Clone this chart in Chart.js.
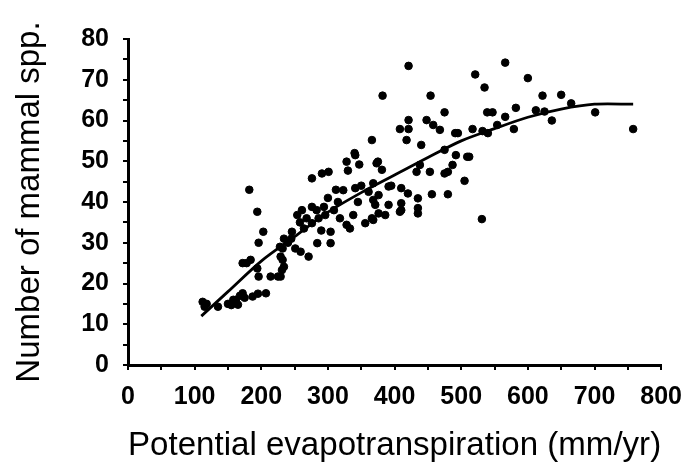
<!DOCTYPE html>
<html>
<head>
<meta charset="utf-8">
<script src="https://cdn.jsdelivr.net/npm/chart.js@4"></script>
<style>
  html, body { margin: 0; padding: 0; background: #fff; }
  #wrap { width: 694px; height: 470px; }
</style>
</head>
<body>
<div id="wrap"><canvas id="myChart"></canvas></div>
<script>
// data
const petX = [112,115,118,135,150,155,158,162,165,168,172,175,187,195,207,182,194,203,196,172,184,178,194,196,214,225,229,228,234,232,232,234,231,229,
  246,251,259,271,254,261,264,276,276,276,291,301,304,304,284,294,296,309,323,328,333,338,341,356,361,366,368,328,330,340,347,366,373,341,286,268,315,300,312,245,240,258,283,290,318,345,350,
  368,368,371,376,376,375,381,382,386,391,391,395,408,408,410,410,410,418,420,421,421,421,433,435,435,435,438,440,448,453,454,456,458,468,475,475,475,480,480,487,491,492,505,509,
  495,512,517,521,531,532,535,539,540,547,554,566,566,579,582,600,612,622,625,636,650,665,701,758];
const mammalY = [15.5,14.3,15,14.3,15,14.7,16,16,14.8,17,17.6,16.5,16.8,17.5,17.6,43,37.6,32.7,30,25,25.8,25,23.7,21.7,21.7,21.7,26.6,29,31,28.6,25.8,24.1,23.3,21.7,
  32.7,28.6,27.8,26.6,36.8,38,33.5,34.8,38.8,45.8,47,47.4,32.7,29.9,29.9,38.8,36.8,38,42.9,34.4,33.5,36.8,43.4,34.8,42.5,36,40.5,49.9,47.7,52,49.2,55.2,49.5,51.5,36,36,40,41,43,31,30,35,38,33,36,40,44,
  44.6,35.6,39.3,37.2,41.7,49.9,47.9,66.1,36.8,43.8,39.3,44,37.6,57.9,43.4,39.7,38,55.2,42.1,73.4,60.1,57.9,47.4,40.9,38.5,37.2,49.1,54,60.1,47.4,66.1,41.9,58.9,57.7,62,52.8,47,47.4,41.9,49.1,56.9,51.5,45.2,51.1,
  56.9,51.1,57.9,71.3,35.8,57.4,68.1,62,56.9,62,58.9,74.2,60.9,57.9,63.1,70.4,62.5,66.1,62.2,60,66.3,64.2,62,57.9];

// fitted curve
const fitX = [110,150,200,250,300,350,400,450,500,550,600,650,700,758];
const fitY = [12,18,25.5,31.5,37.5,42.3,46.6,50.9,55,58,60.8,62.8,64,64];

const xTicks = [0,100,200,300,400,500,600,700,800];
const yTicks = [0,10,20,30,40,50,60,70,80];

const points = petX.map((x, i) => ({ x: x, y: mammalY[i] }));
const curve = fitX.map((x, i) => ({ x: x, y: fitY[i] }));

var ctx = document.getElementById('myChart').getContext('2d');
var myChart = new Chart(ctx, {
    type: 'scatter',
    data: {
        datasets: [{
            data: points,
            backgroundColor: '#000',
            borderColor: '#000',
            pointRadius: 3.8,
            pointHoverRadius: 3.8
        }, {
            type: 'line',
            data: curve,
            borderColor: '#000',
            borderWidth: 2.8,
            pointRadius: 0,
            tension: 0.3,
            fill: false
        }]
    },
    options: {
        responsive: true,
        maintainAspectRatio: false,
        animation: false,
        layout: { padding: { top: 39, right: 29, left: 10, bottom: 0 } },
        plugins: { legend: { display: false }, tooltip: { enabled: false } },
        scales: {
            x: {
                type: 'linear',
                min: 0, max: 800,
                afterFit: s => { s.height = 105; },
                grid: { drawOnChartArea: false, color: '#000', tickLength: 5, lineWidth: 2 },
                border: { color: '#000', width: 3 },
                ticks: {
                    stepSize: 50, autoSkip: false, maxRotation: 0,
                    color: '#000', padding: 12,
                    font: { family: 'Liberation Sans', size: 25, weight: 'bold' },
                    callback: v => xTicks.includes(v) ? String(v) : ''
                },
                title: {
                    display: true,
                    text: 'Potential evapotranspiration (mm/yr)',
                    color: '#000',
                    font: { family: 'Liberation Sans', size: 34 },
                    padding: { top: 0, bottom: 4 }
                }
            },
            y: {
                min: 0, max: 80,
                afterFit: s => { s.width = 118; },
                grid: { drawOnChartArea: false, color: '#000', tickLength: 5, lineWidth: 2 },
                border: { color: '#000', width: 3 },
                ticks: {
                    stepSize: 5, autoSkip: false,
                    color: '#000', padding: 14,
                    font: { family: 'Liberation Sans', size: 25, weight: 'bold' },
                    callback: v => yTicks.includes(v) ? String(v) : ''
                },
                title: {
                    display: true,
                    text: 'Number of mammal spp.',
                    color: '#000',
                    font: { family: 'Liberation Sans', size: 33 },
                    padding: { top: 0, bottom: 4 }
                }
            }
        }
    }
});
</script>
</body>
</html>
